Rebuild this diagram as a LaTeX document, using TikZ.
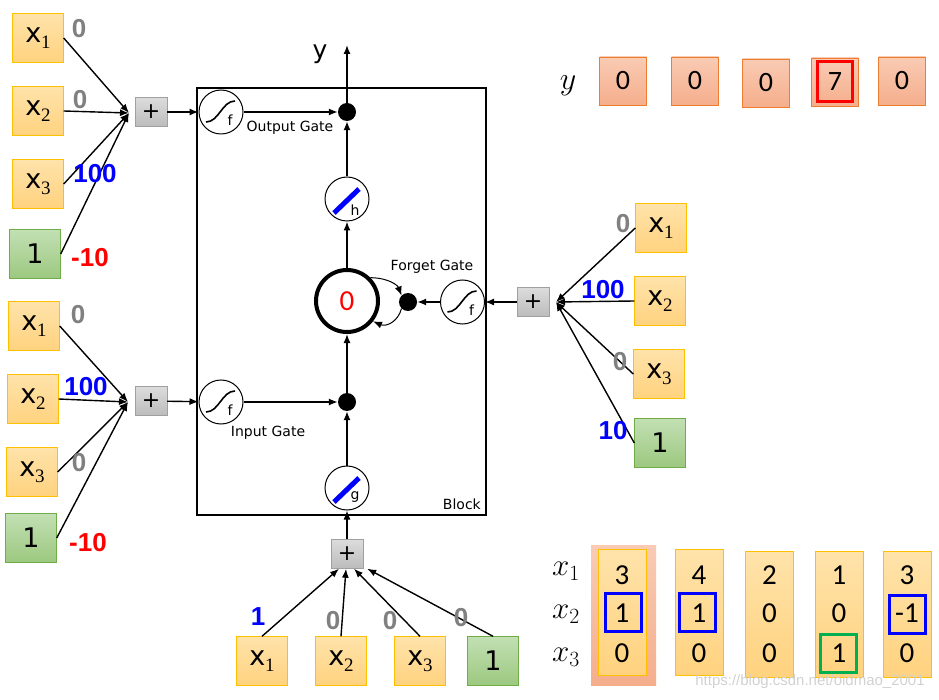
\RequirePackage{fix-cm}
\documentclass[tikz,border=0pt]{standalone}
\usepackage{fontspec}
\setmainfont{DejaVu Sans}
\newfontfamily\calfont{Carlito}
\newfontfamily\arfont{Liberation Sans}
\newfontfamily\subfont{Liberation Serif}
\usetikzlibrary{arrows.meta}
\definecolor{inborder}{HTML}{FFC000}
\definecolor{intop}{HTML}{FFE3AA}
\definecolor{inbot}{HTML}{FFD27F}
\definecolor{oneborder}{HTML}{70AD47}
\definecolor{onetop}{HTML}{C2E0B4}
\definecolor{onebot}{HTML}{9CC87F}
\definecolor{sumborder}{HTML}{A0A0A0}
\definecolor{sumtop}{HTML}{DCDCDC}
\definecolor{sumbot}{HTML}{BCBCBC}
\definecolor{outborder}{HTML}{ED7D31}
\definecolor{outtop}{HTML}{F9CBB4}
\definecolor{outbot}{HTML}{F5AE8C}
\definecolor{wgray}{HTML}{808080}
\definecolor{tanhblue}{HTML}{0000FF}
\definecolor{hlgreen}{HTML}{00B050}
\tikzset{
  >={Latex[length=9pt,width=7pt]},
}
\tikzstyle{con}=[line width=1.4pt]
\tikzstyle{inp}=[draw=inborder,top color=intop,bottom color=inbot,minimum width=51pt,minimum height=49pt,inner sep=0pt,font=\fontsize{27}{27}\selectfont]
\tikzstyle{one}=[inp,draw=oneborder,top color=onetop,bottom color=onebot]
\tikzstyle{sum}=[draw=sumborder,top color=sumtop,bottom color=sumbot,minimum width=32pt,minimum height=29pt,inner sep=0pt,font=\fontsize{22}{22}\selectfont]
\tikzstyle{outbox}=[draw=outborder,top color=outtop,bottom color=outbot,minimum width=47pt,minimum height=48pt,inner sep=0pt,font=\calfont\fontsize{28}{28}\selectfont]
\tikzstyle{colbox}=[draw=inborder,top color=intop,bottom color=inbot,minimum width=48pt,minimum height=126pt,inner sep=0pt]
\tikzstyle{val}=[font=\calfont\fontsize{29}{29}\selectfont,inner sep=0pt]
\tikzstyle{hl}=[line width=3pt,minimum width=36pt,minimum height=38pt,inner sep=0pt]
\tikzstyle{wg}=[font=\arfont\bfseries\fontsize{26}{26}\selectfont,text=wgray,inner sep=0pt]
\tikzstyle{wb}=[wg,text=tanhblue]
\tikzstyle{wr}=[wg,text=red]
\tikzstyle{gatelabel}=[font=\fontsize{14}{14}\selectfont,inner sep=0pt]
\tikzstyle{dot}=[circle,fill=black,minimum size=18pt,inner sep=0pt]
\tikzstyle{gate}=[circle,draw,line width=1pt,fill=white,minimum size=44pt,inner sep=0pt]
\tikzstyle{sigm}=[gate,path picture={
    \draw[line width=1.6pt] ([shift={(-15,10)}]path picture bounding box.center)
      .. controls ([shift={(-2,10)}]path picture bounding box.center)
      and ([shift={(1,-11)}]path picture bounding box.center)
      .. ([shift={(14,-11)}]path picture bounding box.center);
    \node[font=\fontsize{14}{14}\selectfont,inner sep=0pt] at ([shift={(9,8)}]path picture bounding box.center) {f};}]
\tikzstyle{squash}=[gate,path picture={
    \draw[line width=5pt,tanhblue] ([shift={(-13,14)}]path picture bounding box.center)
      -- ([shift={(12,-10)}]path picture bounding box.center);}]
\newcommand{\xs}[1]{x\raisebox{-6pt}{\subfont\fontsize{19}{19}\selectfont#1}}

\begin{document}
\begin{tikzpicture}[x=1pt,y=-1pt]
    \useasboundingbox (0,0) rectangle (939,700);
    % block with the cell
    \node[draw,line width=1.5pt,minimum width=289pt,minimum height=427pt] (block) at (341.5,301.5) {};
    \node[gatelabel,anchor=south east] (blocklbl) at (481,510) {Block};
    \node[sigm] (og) at (221,112) {};
    \node[dot] (od) at (347,112) {};
    \node[gatelabel] (oglbl) at (290,128) {Output Gate};
    \node[squash] (hc) at (347,199) {};
    \node[font=\fontsize{14}{14}\selectfont,inner sep=0pt] (hlbl) at (355,210) {h};
    \node[circle,draw,line width=4pt,minimum size=62pt,inner sep=0pt,text=red,font=\calfont\fontsize{29}{29}\selectfont] (cell) at (347,301) {0};
    \node[dot] (fd) at (408,302) {};
    \node[sigm] (fg) at (462.5,302) {};
    \node[gatelabel] (fglbl) at (432,267) {Forget Gate};
    \node[dot] (id) at (347,402) {};
    \node[sigm] (ig) at (221,402) {};
    \node[gatelabel] (iglbl) at (268,433) {Input Gate};
    \node[squash] (gc) at (347,488) {};
    \node[font=\fontsize{14}{14}\selectfont,inner sep=0pt] (glbl) at (355,497) {g};
    \coordinate (yout) at (347,45);
    \node[font=\fontsize{25}{25}\selectfont,inner sep=0pt] (ylbl) at (320,54) {y};
    \draw[con,->] (od) -- (yout);
    \draw[con,->] (og) -- (od);
    \draw[con,->] (hc) -- (od);
    \draw[con,->] (cell) -- (hc);
    \draw[con,->] (id) -- (cell);
    \draw[con,->] (gc) -- (id);
    \draw[con,->] (ig) -- (id);
    \draw[con,->] (fg) -- (fd);
    \draw[line width=1pt,->] (cell.45) .. controls (390,278) and (398,286) .. (fd.135);
    \draw[line width=1pt,->] (fd.225) .. controls (398,322) and (386,327) .. (cell.-38);

    % output gate inputs
    \foreach \n/\yy in {1/38,2/111,3/184}
      \node[inp] (ax\n) at (38,\yy) {\xs{\n}};
    \node[inp,one] (a1) at (35,254) {1};
    \node[sum] (sa) at (151,112) {+};
    \coordinate (ja) at (129,113);
    \foreach \n in {ax1,ax2,ax3,a1}
      \draw[con,->] (\n.east) -- (ja);
    \draw[con,->] (sa) -- (og);
    \node[wg] (wa1) at (79,29) {0};
    \node[wg] (wa2) at (80,100) {0};
    \node[wb] (wa3) at (95,174) {100};
    \node[wr] (wa4) at (90,258) {-10};

    % input gate inputs
    \foreach \n/\xx/\yy in {1/34/326,2/33/399,3/32/472}
      \node[inp] (bx\n) at (\xx,\yy) {\xs{\n}};
    \node[inp,one] (b1) at (31,538) {1};
    \node[sum] (sb) at (151,401) {+};
    \coordinate (jb) at (128,402);
    \foreach \n in {bx1,bx2,bx3,b1}
      \draw[con,->] (\n.east) -- (jb);
    \draw[con,->] (sb) -- (ig);
    \node[wg] (wb1) at (78,315) {0};
    \node[wb] (wb2) at (86,387) {100};
    \node[wg] (wb3) at (79,463) {0};
    \node[wr] (wb4) at (88,543) {-10};

    % forget gate inputs
    \foreach \n/\xx/\yy in {1/661/228,2/660/301,3/659/374}
      \node[inp] (cx\n) at (\xx,\yy) {\xs{\n}};
    \node[inp,one] (c1) at (660,443) {1};
    \node[sum] (sc) at (533,302) {+};
    \coordinate (jc) at (556,302);
    \foreach \n in {cx1,cx2,cx3,c1}
      \draw[con,->] (\n.west) -- (jc);
    \draw[con,->] (sc) -- (fg);
    \node[wg] (wc1) at (623,224) {0};
    \node[wb] (wc2) at (603,290) {100};
    \node[wg] (wc3) at (620,362) {0};
    \node[wb] (wc4) at (613,431) {10};

    % cell input
    \foreach \n/\xx in {1/262,2/341,3/420}
      \node[inp] (dx\n) at (\xx,661) {\xs{\n}};
    \node[inp,one] (d1) at (493,661) {1};
    \node[sum] (sd) at (347,554) {+};
    \draw[con,->] (dx1.north) -- ([xshift=-8pt]sd.south);
    \draw[con,->] (dx2.north) -- ([xshift=-1pt]sd.south);
    \draw[con,->] (dx3.north) -- ([xshift=7pt]sd.south);
    \draw[con,->] (d1.north) -- ([xshift=4pt]sd.south east);
    \draw[con,->] (sd) -- (gc);
    \node[wb] (wd1) at (258,617) {1};
    \node[wg] (wd2) at (333,621) {0};
    \node[wg] (wd3) at (390,621) {0};
    \node[wg] (wd4) at (461,618) {0};

    % outputs y
    \node[font=\fontsize{32}{32}\selectfont,inner sep=0pt] (yrow) at (568,86) {$y$};
    \foreach \n/\xx/\yy/\v in {1/623/81/0,2/695/81/0,3/766/83/0,4/835/82/7,5/902/81/0}
      \node[outbox] (y\n) at (\xx,\yy) {\v};
    \node[hl,draw=red,minimum width=35pt,minimum height=40pt] (yhl) at (834.5,82) {};

    % input sequence
    \node[top color=outtop,bottom color=outbot,minimum width=65pt,minimum height=140pt,inner sep=0pt] (col1bg) at (623.5,615) {};
    \foreach \n/\xx/\yy in {1/622/612,2/699/612.5,3/769.5/614,4/839/614,5/907/614}
      \node[colbox] (col\n) at (\xx,\yy) {};
    \foreach \n/\xx/\a/\b/\c in {1/622/3/1/0,2/699/4/1/0,3/769.5/2/0/0,4/839/1/0/1,5/907/3/-1/0}{
      \node[val] (v\n a) at (\xx,575) {\a};
      \node[val] (v\n b) at (\xx,613) {\b};
      \node[val] (v\n c) at (\xx,653) {\c};
    }
    \node[hl,draw=tanhblue] (h1) at (623,612) {};
    \node[hl,draw=tanhblue] (h2) at (697.5,612) {};
    \node[hl,draw=tanhblue] (h5) at (907,614) {};
    \node[hl,draw=hlgreen] (h4) at (838.5,653) {};
    \foreach \n/\yy in {1/571,2/614,3/657}
      \node[font=\fontsize{31}{31}\selectfont,inner sep=0pt] (xl\n) at (566,\yy) {$x_\n$};
    \node[font=\arfont\fontsize{15}{15}\selectfont,text=black!18,inner sep=0pt] (mark) at (810,682) {https://blog.csdn.net/oldmao\_2001};
\end{tikzpicture}
\end{document}
